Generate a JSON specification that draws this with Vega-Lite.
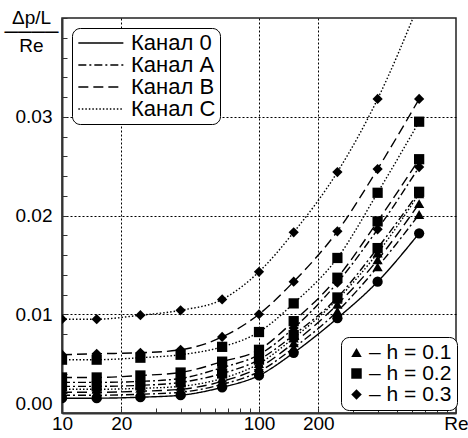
{
"$schema": "https://vega.github.io/schema/vega-lite/v6.json",
"width": 394, "height": 395,
"autosize": {"type": "none"},
"padding": {"left": 62, "top": 18, "right": 12, "bottom": 25},
"background": "white",
"config": {
  "font": "Liberation Sans",
  "view": {"stroke": "#222", "strokeWidth": 1.5},
  "axis": {"labelFont": "Liberation Sans", "labelFontSize": 19, "labelColor": "black", "domainColor": "#333", "domainWidth": 2, "tickColor": "#333", "tickWidth": 1, "gridColor": "black", "gridDash": [2, 2], "gridWidth": 1, "labelOverlap": false}
},
"data": {"values": [
{"ch":"Канал 0","h":"0","Re":10,"v":0.0015},{"ch":"Канал 0","h":"0","Re":15,"v":0.0015},{"ch":"Канал 0","h":"0","Re":25,"v":0.0016},{"ch":"Канал 0","h":"0","Re":40,"v":0.0018},{"ch":"Канал 0","h":"0","Re":65,"v":0.0026},{"ch":"Канал 0","h":"0","Re":100,"v":0.0038},{"ch":"Канал 0","h":"0","Re":150,"v":0.0061},{"ch":"Канал 0","h":"0","Re":250,"v":0.0096},{"ch":"Канал 0","h":"0","Re":400,"v":0.0133},{"ch":"Канал 0","h":"0","Re":650,"v":0.0182},
{"ch":"Канал A","h":"0.1","Re":10,"v":0.0018},{"ch":"Канал A","h":"0.1","Re":15,"v":0.0018},{"ch":"Канал A","h":"0.1","Re":25,"v":0.0019},{"ch":"Канал A","h":"0.1","Re":40,"v":0.0021},{"ch":"Канал A","h":"0.1","Re":65,"v":0.0029},{"ch":"Канал A","h":"0.1","Re":100,"v":0.0042},{"ch":"Канал A","h":"0.1","Re":150,"v":0.0066},{"ch":"Канал A","h":"0.1","Re":250,"v":0.0103},{"ch":"Канал A","h":"0.1","Re":400,"v":0.0148},{"ch":"Канал A","h":"0.1","Re":650,"v":0.0201},
{"ch":"Канал B","h":"0.1","Re":10,"v":0.0021},{"ch":"Канал B","h":"0.1","Re":15,"v":0.0021},{"ch":"Канал B","h":"0.1","Re":25,"v":0.0022},{"ch":"Канал B","h":"0.1","Re":40,"v":0.0024},{"ch":"Канал B","h":"0.1","Re":65,"v":0.0032},{"ch":"Канал B","h":"0.1","Re":100,"v":0.0046},{"ch":"Канал B","h":"0.1","Re":150,"v":0.0071},{"ch":"Канал B","h":"0.1","Re":250,"v":0.0110},{"ch":"Канал B","h":"0.1","Re":400,"v":0.0155},{"ch":"Канал B","h":"0.1","Re":650,"v":0.0212},
{"ch":"Канал C","h":"0.1","Re":10,"v":0.0024},{"ch":"Канал C","h":"0.1","Re":15,"v":0.0024},{"ch":"Канал C","h":"0.1","Re":25,"v":0.0025},{"ch":"Канал C","h":"0.1","Re":40,"v":0.0027},{"ch":"Канал C","h":"0.1","Re":65,"v":0.0035},{"ch":"Канал C","h":"0.1","Re":100,"v":0.0050},{"ch":"Канал C","h":"0.1","Re":150,"v":0.0076},{"ch":"Канал C","h":"0.1","Re":250,"v":0.0115},{"ch":"Канал C","h":"0.1","Re":400,"v":0.0162},{"ch":"Канал C","h":"0.1","Re":650,"v":0.0222},
{"ch":"Канал A","h":"0.2","Re":10,"v":0.0027},{"ch":"Канал A","h":"0.2","Re":15,"v":0.0027},{"ch":"Канал A","h":"0.2","Re":25,"v":0.0028},{"ch":"Канал A","h":"0.2","Re":40,"v":0.0031},{"ch":"Канал A","h":"0.2","Re":65,"v":0.0040},{"ch":"Канал A","h":"0.2","Re":100,"v":0.0054},{"ch":"Канал A","h":"0.2","Re":150,"v":0.0079},{"ch":"Канал A","h":"0.2","Re":250,"v":0.0117},{"ch":"Канал A","h":"0.2","Re":400,"v":0.0167},{"ch":"Канал A","h":"0.2","Re":650,"v":0.0224},
{"ch":"Канал A","h":"0.3","Re":10,"v":0.0031},{"ch":"Канал A","h":"0.3","Re":15,"v":0.0031},{"ch":"Канал A","h":"0.3","Re":25,"v":0.0032},{"ch":"Канал A","h":"0.3","Re":40,"v":0.0035},{"ch":"Канал A","h":"0.3","Re":65,"v":0.0046},{"ch":"Канал A","h":"0.3","Re":100,"v":0.0059},{"ch":"Канал A","h":"0.3","Re":150,"v":0.0086},{"ch":"Канал A","h":"0.3","Re":250,"v":0.0132},{"ch":"Канал A","h":"0.3","Re":400,"v":0.0186},{"ch":"Канал A","h":"0.3","Re":650,"v":0.0249},
{"ch":"Канал B","h":"0.2","Re":10,"v":0.0036},{"ch":"Канал B","h":"0.2","Re":15,"v":0.0036},{"ch":"Канал B","h":"0.2","Re":25,"v":0.0038},{"ch":"Канал B","h":"0.2","Re":40,"v":0.0041},{"ch":"Канал B","h":"0.2","Re":65,"v":0.0052},{"ch":"Канал B","h":"0.2","Re":100,"v":0.0064},{"ch":"Канал B","h":"0.2","Re":150,"v":0.0093},{"ch":"Канал B","h":"0.2","Re":250,"v":0.0137},{"ch":"Канал B","h":"0.2","Re":400,"v":0.0194},{"ch":"Канал B","h":"0.2","Re":650,"v":0.0257},
{"ch":"Канал C","h":"0.2","Re":10,"v":0.0054},{"ch":"Канал C","h":"0.2","Re":15,"v":0.0054},{"ch":"Канал C","h":"0.2","Re":25,"v":0.0056},{"ch":"Канал C","h":"0.2","Re":40,"v":0.0059},{"ch":"Канал C","h":"0.2","Re":65,"v":0.0067},{"ch":"Канал C","h":"0.2","Re":100,"v":0.0082},{"ch":"Канал C","h":"0.2","Re":150,"v":0.0111},{"ch":"Канал C","h":"0.2","Re":250,"v":0.0157},{"ch":"Канал C","h":"0.2","Re":400,"v":0.0223},{"ch":"Канал C","h":"0.2","Re":650,"v":0.0295},
{"ch":"Канал B","h":"0.3","Re":10,"v":0.0059},{"ch":"Канал B","h":"0.3","Re":15,"v":0.0060},{"ch":"Канал B","h":"0.3","Re":25,"v":0.0061},{"ch":"Канал B","h":"0.3","Re":40,"v":0.0064},{"ch":"Канал B","h":"0.3","Re":65,"v":0.0077},{"ch":"Канал B","h":"0.3","Re":100,"v":0.0100},{"ch":"Канал B","h":"0.3","Re":150,"v":0.0133},{"ch":"Канал B","h":"0.3","Re":250,"v":0.0184},{"ch":"Канал B","h":"0.3","Re":400,"v":0.0247},{"ch":"Канал B","h":"0.3","Re":650,"v":0.0318},
{"ch":"Канал C","h":"0.3","Re":10,"v":0.0095},{"ch":"Канал C","h":"0.3","Re":15,"v":0.0095},{"ch":"Канал C","h":"0.3","Re":25,"v":0.0099},{"ch":"Канал C","h":"0.3","Re":40,"v":0.0104},{"ch":"Канал C","h":"0.3","Re":65,"v":0.0115},{"ch":"Канал C","h":"0.3","Re":100,"v":0.0143},{"ch":"Канал C","h":"0.3","Re":150,"v":0.0183},{"ch":"Канал C","h":"0.3","Re":250,"v":0.0244},{"ch":"Канал C","h":"0.3","Re":400,"v":0.0318},{"ch":"Канал C","h":"0.3","Re":650,"v":0.0415}
]},
"encoding": {
  "x": {"field": "Re", "type": "quantitative",
    "scale": {"type": "log", "domain": [10, 1000], "nice": false},
    "axis": {"title": null, "format": "d", "labelFlush": false,
      "values": [10,20,30,40,50,60,70,80,90,100,200,300,400,500,600,700,800,900,1000],
      "labelExpr": "datum.value == 1000 ? 'Re' : (indexof([10,20,100,200], datum.value) >= 0 ? datum.label : '')",
      "grid": true,
      "gridOpacity": {"condition": {"test": "indexof([20,100,200], datum.value) >= 0", "value": 1}, "value": 0},
      "tickSize": -5, "labelPadding": 6}},
  "y": {"field": "v", "type": "quantitative",
    "scale": {"domain": [0, 0.04], "nice": false},
    "axis": {"values": [0,0.002,0.004,0.006,0.008,0.01,0.012,0.014,0.016,0.018,0.02,0.022,0.024,0.026,0.028,0.03,0.032,0.034,0.036,0.038,0.04],
      "labelExpr": "indexof([0,0.01,0.02,0.03], datum.value) >= 0 ? format(datum.value, '.2f') : ''",
      "labelFlush": true, "labelFlushOffset": 0,
      "grid": true,
      "gridOpacity": {"condition": {"test": "indexof([0.01,0.02,0.03], datum.value) >= 0", "value": 1}, "value": 0},
      "tickSize": -5, "labelPadding": 15,
      "title": ["Δp/L", "────", "Re"], "titleAngle": 0, "titleFontSize": 19, "titleFontWeight": "normal", "titleFont": "Liberation Sans",
      "titleAlign": "center", "titleBaseline": "alphabetic", "titleX": -31, "titleY": 5, "titleLineHeight": 14, "titleColor": "black"}}
},
"layer": [
  {"mark": {"type": "line", "clip": true, "interpolate": "monotone", "color": "black", "strokeWidth": 1.4},
   "encoding": {
     "detail": {"field": "h"},
     "strokeDash": {"field": "ch", "type": "nominal",
       "scale": {"domain": ["Канал 0", "Канал A", "Канал B", "Канал C"], "range": [[1, 0], [8, 3, 2, 3], [10, 5], [1.5, 2]]},
       "legend": {"orient": "none", "legendX": 10, "legendY": 10, "title": null, "symbolType": "M-1,0H4.2", "symbolStrokeColor": "black", "symbolStrokeWidth": 1.3, "symbolSize": 300, "labelFontSize": 22, "labelFont": "Liberation Sans", "labelColor": "black", "strokeColor": "black", "cornerRadius": 8, "padding": 4, "rowPadding": -4.5, "fillColor": "white", "labelOffset": 33, "labelLimit": 200}}
   }},
  {"mark": {"type": "point", "filled": true, "clip": true, "color": "black", "opacity": 1, "size": 105},
   "encoding": {
     "shape": {"field": "h", "type": "nominal",
       "scale": {"domain": ["0", "0.1", "0.2", "0.3"], "range": ["circle", "triangle-up", "square", "diamond"]},
       "legend": {"orient": "none", "legendX": 279, "legendY": 319, "values": ["0.1", "0.2", "0.3"], "title": null, "labelExpr": "'– h = ' + datum.label", "symbolFillColor": "black", "symbolStrokeColor": "black", "symbolSize": 110, "labelFontSize": 21, "labelFont": "Liberation Sans", "labelColor": "black", "strokeColor": "black", "cornerRadius": 8, "padding": 5, "rowPadding": -2, "fillColor": "white", "labelOffset": 2}}
   }}
]
}
